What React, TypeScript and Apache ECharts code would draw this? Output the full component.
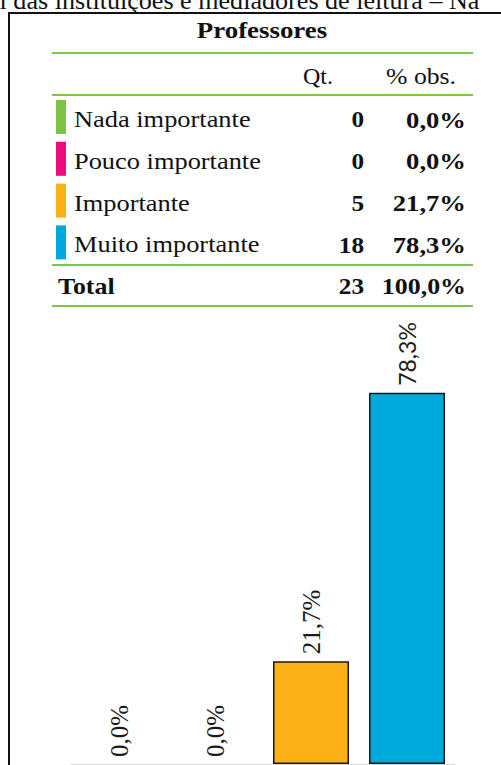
import React, { useEffect, useRef } from "react";
import * as echarts from "echarts";

const categories = ["Nada importante", "Pouco importante", "Importante", "Muito importante"];
const counts = [0, 0, 5, 18];
const percents = [0.0, 0.0, 21.7, 78.3];
const totalCount = 23;
const totalPercent = 100.0;
const colors = ["#7DC242", "#EC0C7C", "#FBB117", "#00A9DB"];
const headerTitle = "Professores";
const columnHeaders = ["Qt.", "% obs."];
const topText = "el das instituições e mediadores de leitura – Na";

const SERIF = "Liberation Serif";
const fmt = (v: number) => v.toFixed(1).replace(".", ",") + "%";

function txt(text: string, x: number, y: number, size: number, bold: boolean, align: string, scaleX = 1) {
  return {
    type: "text",
    x,
    y,
    scaleX,
    silent: true,
    style: {
      text,
      fontSize: size,
      fontFamily: SERIF,
      fontWeight: bold ? "bold" : "normal",
      fill: "#111",
      align,
      textAlign: align,
      verticalAlign: "middle",
      textVerticalAlign: "middle",
    },
  };
}

function hline(x1: number, x2: number, y: number, color: string, w: number) {
  return {
    type: "line",
    silent: true,
    shape: { x1, y1: y, x2, y2: y },
    style: { stroke: color, lineWidth: w },
  };
}

export default function App() {
  const ref = useRef<HTMLDivElement>(null);
  useEffect(() => {
    if (!ref.current) return;
    const chart = echarts.init(ref.current, null, { renderer: "svg" });
    const green = "#7AC943";
    const rowY = (i: number) => 119 + i * 41.8;
    const graphic: any[] = [];
    graphic.push(txt(topText, -12, 0.5, 25, false, "left", 1.045));
    // frame
    graphic.push(hline(8, 501, 13, "#111", 2));
    graphic.push({ type: "line", silent: true, shape: { x1: 9, y1: 12, x2: 9, y2: 765 }, style: { stroke: "#111", lineWidth: 2 } });
    graphic.push(txt(headerTitle, 262, 30, 24, true, "center", 1.12));
    graphic.push(hline(52, 473, 53, green, 2));
    graphic.push(txt(columnHeaders[0], 333, 76, 24, false, "right"));
    graphic.push(txt(columnHeaders[1], 456, 76, 24, false, "right", 1.07));
    graphic.push(hline(52, 473, 95, green, 2));
    categories.forEach((c, i) => {
      const y = rowY(i);
      graphic.push({ type: "rect", silent: true, shape: { x: 56, y: y - 19, width: 10, height: 34 }, style: { fill: colors[i] } });
      graphic.push(txt(c, 74, y, 24, false, "left", 1.1));
      graphic.push(txt(String(counts[i]), 364, y, 24, true, "right", 1.05));
      graphic.push(txt(fmt(percents[i]), 466, y, 24, true, "right", 1.11));
    });
    graphic.push(hline(52, 473, 265, green, 2));
    graphic.push(txt("Total", 58, 286, 24, true, "left", 1.08));
    graphic.push(txt(String(totalCount), 364, 286, 24, true, "right", 1.05));
    graphic.push(txt(fmt(totalPercent), 466, 286, 24, true, "right", 1.08));
    graphic.push(hline(52, 473, 306, green, 2));

    const option: any = {
      animation: false,
      grid: { left: 71, right: 46, top: 290, bottom: 1 },
      xAxis: {
        type: "category",
        data: categories,
        axisLine: { lineStyle: { color: "#d9d9d9", width: 1 } },
        axisTick: { show: false },
        axisLabel: { show: false },
      },
      yAxis: { type: "value", min: 0, max: 100, show: false },
      series: [
        {
          type: "bar",
          barWidth: 76,
          data: percents.map((v, i) => ({
            value: v,
            itemStyle: { color: colors[i], borderWidth: v === 0 ? 0 : 1.5 },
            label: i === 3 ? { fontFamily: "Lato", fontSize: 23 } : { fontFamily: SERIF, fontSize: 25 },
          })),
          itemStyle: { borderColor: "#1a1a1a", borderWidth: 1.5 },
          label: {
            show: true,
            position: "top",
            rotate: 90,
            align: "left",
            verticalAlign: "middle",
            distance: 7,
            color: "#1a1a1a",
            formatter: (p: any) => fmt(p.value),
          },
        },
      ],
      graphic,
    };
    chart.setOption(option);
    return () => chart.dispose();
  }, []);
  return (
    <div
      ref={ref}
      style={{ position: "absolute", left: 0, top: 0, width: 501, height: 765, background: "#fff" }}
    />
  );
}
